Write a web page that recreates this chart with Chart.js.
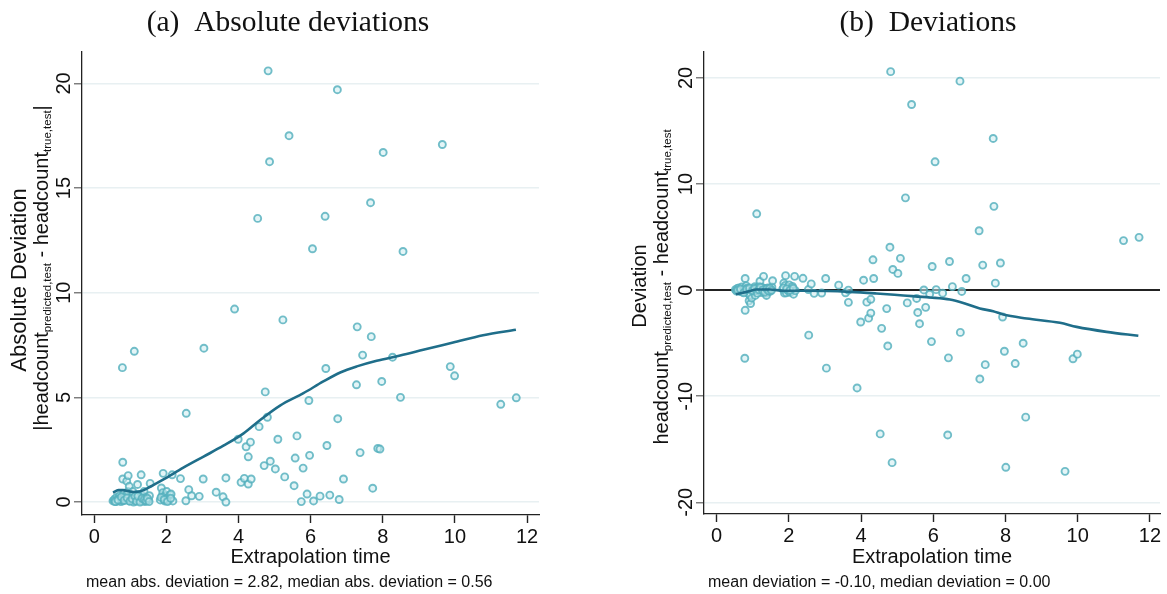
<!DOCTYPE html>
<html>
<head>
<meta charset="utf-8">
<script src="https://cdn.jsdelivr.net/npm/chart.js@4.4.1/dist/chart.umd.min.js"></script>
<style>
  body { margin: 0; background: #fff; }
  canvas { position: absolute; top: 0; }
  #chartA { left: 0; }
  #chartB { left: 583px; }
</style>
</head>
<body>
<canvas id="chartA" width="583" height="594"></canvas>
<canvas id="chartB" width="584" height="594"></canvas>
<script>
// extrapolation time of each test case, and its deviation (predicted - true)
const xTime = [
  0.52, 0.55, 0.57, 0.60, 0.62, 0.64, 0.67, 0.70, 0.72, 0.74, 0.77, 0.79, 0.79, 0.78, 0.80, 0.82, 0.85,
  0.87, 0.90, 0.94, 0.93, 0.96, 0.97, 1.02, 1.04, 1.06, 1.07, 1.09, 1.11, 1.12, 1.14, 1.18, 1.20, 1.22,
  1.24, 1.26, 1.28, 1.30, 1.31, 1.34, 1.36, 1.38, 1.40, 1.42, 1.45, 1.48, 1.50, 1.53, 1.55,
  0.58, 0.66, 0.75, 0.83, 0.91, 0.99, 1.05, 1.13, 1.17, 1.21, 1.27, 1.33, 1.39, 1.44, 1.47, 1.52,
  1.83, 1.86, 1.88, 1.90, 1.91, 1.93, 1.95, 1.97, 1.99, 2.01, 2.04, 2.07, 2.10, 2.13, 2.16, 2.18,
  1.85, 1.94, 2.03, 2.12,
  2.39, 2.54, 2.55, 2.62, 2.70, 2.91, 3.02, 3.04, 3.38, 3.57, 3.65, 3.65, 3.89, 3.99, 4.07, 4.16,
  4.21, 4.27, 4.27, 4.33, 4.35, 4.53, 4.57, 4.71, 4.74, 4.80, 4.82, 4.86, 4.88, 5.02, 5.09, 5.23,
  5.28, 5.40, 5.54, 5.57, 5.62, 5.74, 5.79, 5.90, 5.95, 5.97, 6.05, 6.08, 6.26, 6.40, 6.42, 6.45,
  6.53, 6.74, 6.75, 6.79, 6.91, 7.27, 7.29, 7.37, 7.44, 7.66, 7.68, 7.72, 7.86, 7.92, 7.97, 8.01,
  8.27, 8.49, 8.56, 9.65, 9.87, 9.99, 11.27, 11.70
];
const dev = [
  0.05, -0.08, 0.15, 0.02, 0.22, -0.12, 0.06, 0.30, -0.18, 0.02, 0.12, 1.10, -1.90, -6.42, -0.06, 0.40, 0.18,
  -0.30, -1.00, -1.26, -0.50, 0.05, -0.75, 0.10, -0.12, 0.32, -0.50, 0.00, 7.20, 0.20, -0.06, 0.36, 0.84, 0.10,
  -0.22, 0.25, -0.10, 1.30, 0.05, 0.15, -0.30, -0.50, 0.02, 0.22, 0.06, -0.12, 0.12, 0.30, 0.89,
  -0.02, 0.10, -0.25, 0.08, 0.20, -0.04, 0.16, -0.28, 0.04, 0.28, 0.00, -0.18, 0.12, -0.06, 0.18, -0.02,
  0.10, 0.67, -0.28, 0.45, 1.37, -0.25, 0.05, 0.30, -0.10, 0.50, -0.20, 0.08, 0.35, -0.38, 1.30, -0.05,
  0.22, 0.12, -0.02, 0.18,
  1.12, 0.06, -4.24, 0.59, -0.30, -0.27, 1.10, -7.35, 0.47, -0.25, 0.00, -1.15, -9.22, -3.00, 0.94, -1.13,
  -2.64, -2.16, -0.86, 2.86, 1.10, -13.55, -3.60, -1.74, -5.26, 4.05, 20.60, -16.26, 1.95, 1.58, 3.00, 8.70,
  -1.20, 17.50, -0.78, -2.10, -3.16, 0.02, -1.62, -0.38, -4.85, 2.23, 12.10, 0.05, -0.28, -13.65, -6.38, 2.70,
  0.33, 19.70, -3.98, -0.12, 1.10, 5.60, -8.37, 2.36, -7.02, 14.30, 7.90, 0.66, 2.56, -2.53, -5.76, -16.70,
  -6.92, -5.00, -11.97, -17.08, -6.47, -6.03, 4.67, 4.98
];
const absDev = dev.map(Math.abs);

// smoothed (lowess) curves
const smoothXA = [0.52, 0.67, 0.80, 0.95, 1.09, 1.28, 1.55, 1.92, 2.47, 3.03, 3.58, 4.14, 4.60, 5.15, 5.80, 6.35, 6.82, 7.28, 7.83, 8.48, 9.12, 9.95, 10.78, 11.69];
const smoothA  = [0.45, 0.57, 0.57, 0.52, 0.48, 0.51, 0.73, 1.08, 1.64, 2.17, 2.69, 3.28, 3.92, 4.61, 5.20, 5.76, 6.19, 6.48, 6.75, 7.00, 7.27, 7.62, 7.97, 8.23];
const smoothXB = [0.53, 0.83, 1.11, 1.48, 1.85, 2.49, 3.69, 4.43, 5.17, 5.91, 6.46, 6.83, 7.29, 7.66, 7.94, 8.59, 9.51, 9.97, 10.80, 11.68];
const smoothB  = [-0.38, -0.16, 0.06, 0.06, -0.06, -0.06, -0.16, -0.31, -0.50, -0.69, -0.88, -1.20, -1.73, -1.98, -2.30, -2.67, -3.08, -3.46, -3.93, -4.30];

const xTicks = [0, 2, 4, 6, 8, 10, 12];
const yTicksA = [0, 5, 10, 15, 20];
const yTicksB = [-20, -10, 0, 10, 20];

const SANS = '"Liberation Sans", Arial, sans-serif';
const SERIF = '"Liberation Serif", "DejaVu Serif", serif';
const pointRing = 'rgba(84, 176, 189, 0.82)';
const pointFill = 'rgba(205, 236, 240, 0.55)';
const lineColor = '#1f6e8a';
const gridColor = '#e8f0f2';

// draws a label made of normal and subscript pieces, centred on (x, y), rotated if asked
function drawParts(ctx, parts, x, y, rotated, size, subSize) {
  ctx.save();
  ctx.translate(x, y);
  if (rotated) ctx.rotate(-Math.PI / 2);
  ctx.textBaseline = 'middle';
  ctx.textAlign = 'left';
  ctx.fillStyle = '#111';
  let total = 0;
  parts.forEach(p => {
    ctx.font = (p.sub ? subSize : size) + 'px ' + SANS;
    p.w = ctx.measureText(p.t).width;
    total += p.w;
  });
  let pos = -total / 2;
  parts.forEach(p => {
    ctx.font = (p.sub ? subSize : size) + 'px ' + SANS;
    ctx.fillText(p.t, pos, p.sub ? 6 : 0);
    pos += p.w;
  });
  ctx.restore();
}

function textPlugin(cfg) {
  return {
    id: 'texts',
    afterDraw(chart) {
      const ctx = chart.ctx;
      const yScale = chart.scales.y;
      const xScale = chart.scales.x;
      ctx.save();
      // panel title
      ctx.font = '29.5px ' + SERIF;
      ctx.fillStyle = '#111';
      ctx.textAlign = 'center';
      ctx.textBaseline = 'middle';
      ctx.fillText(cfg.title, cfg.titleX, 23);
      // rotated y tick labels
      yScale.ticks.forEach(t => {
        drawParts(ctx, [{ t: String(t.value) }], cfg.tickX, yScale.getPixelForValue(t.value), true, 20, 13);
      });
      // y axis title, two lines
      drawParts(ctx, [{ t: cfg.yTitle1 }], cfg.yTitleX1, cfg.yTitleY1, true, cfg.yTitle1Size, 13);
      drawParts(ctx, cfg.yTitle2, cfg.yTitleX2, cfg.yTitleY2, true, 20, 11.5);
      // x axis title and note
      ctx.font = '20px ' + SANS;
      ctx.textAlign = 'center';
      ctx.fillStyle = '#111';
      ctx.fillText('Extrapolation time', (xScale.left + xScale.right) / 2, 557);
      ctx.font = '16px ' + SANS;
      ctx.textAlign = 'left';
      ctx.fillText(cfg.note, cfg.noteX, 583);
      ctx.restore();
    }
  };
}

function makeChart(id, opts) {
  const ctx = document.getElementById(id).getContext('2d');
  return new Chart(ctx, {
    type: 'scatter',
    data: {
      datasets: [{
        type: 'line',
        data: opts.lineX.map((x, i) => ({ x: x, y: opts.lineY[i] })),
        borderColor: lineColor,
        borderWidth: 2.6,
        pointRadius: 0,
        fill: false,
        tension: 0.4,
        cubicInterpolationMode: 'monotone',
        order: 0
      }, {
        data: xTime.map((x, i) => ({ x: x, y: opts.values[i] })),
        pointRadius: 3.5,
        pointBorderWidth: 1.9,
        pointBorderColor: pointRing,
        pointBackgroundColor: pointFill,
        order: 1
      }]
    },
    options: {
      responsive: false,
      animation: false,
      layout: { padding: { left: 0, right: opts.padRight, top: 52, bottom: 0 } },
      plugins: { legend: { display: false }, tooltip: { enabled: false } },
      scales: {
        x: {
          type: 'linear',
          min: opts.xMin,
          max: opts.xMax,
          afterBuildTicks: s => { s.ticks = xTicks.map(v => ({ value: v })); },
          afterFit: s => { s.height = 594 - opts.bottom; },
          grid: { drawOnChartArea: false, drawTicks: true, tickLength: 8, tickColor: '#222', tickWidth: 1.4 },
          border: { color: '#222', width: 1.3 },
          ticks: { font: { size: 20, family: SANS }, color: '#111', padding: 2, maxRotation: 0 }
        },
        y: {
          min: opts.yMin,
          max: opts.yMax,
          afterBuildTicks: s => { s.ticks = opts.yTicks.map(v => ({ value: v })); },
          afterFit: s => { s.width = opts.left; },
          grid: {
            color: c => (opts.zeroLine && c.tick && c.tick.value === 0) ? '#222' : gridColor,
            lineWidth: c => (opts.zeroLine && c.tick && c.tick.value === 0) ? 2 : 1.5,
            tickLength: 8,
            tickColor: c => (opts.zeroLine && c.tick && c.tick.value === 0) ? '#222' : '#777',
            tickWidth: 1.4
          },
          border: { color: '#222', width: 1.3 },
          ticks: { display: false }
        }
      }
    },
    plugins: [textPlugin(opts.text)]
  });
}

makeChart('chartA', {
  values: absDev, lineX: smoothXA, lineY: smoothA,
  xMin: -0.34, xMax: 12.33, yMin: -0.62, yMax: 21.5, yTicks: yTicksA,
  left: 82, padRight: 44, bottom: 515, zeroLine: false,
  text: {
    title: '(a)  Absolute deviations', titleX: 288,
    tickX: 64, yTitleX1: 20, yTitleX2: 42, yTitleY1: 280, yTitleY2: 268, yTitle1Size: 22,
    yTitle1: 'Absolute Deviation',
    yTitle2: [{ t: '|headcount' }, { t: 'predicted,test', sub: true }, { t: ' - headcount' }, { t: 'true,test', sub: true }, { t: '|' }],
    note: 'mean abs. deviation = 2.82, median abs. deviation = 0.56', noteX: 86
  }
});

makeChart('chartB', {
  values: dev, lineX: smoothXB, lineY: smoothB,
  xMin: -0.35, xMax: 12.28, yMin: -21.1, yMax: 22.45, yTicks: yTicksB,
  left: 121, padRight: 7, bottom: 514, zeroLine: true,
  text: {
    title: '(b)  Deviations', titleX: 928 - 583,
    tickX: 686 - 583, yTitleX1: 640 - 583, yTitleX2: 662 - 583, yTitleY1: 286, yTitleY2: 287, yTitle1Size: 20,
    yTitle1: 'Deviation',
    yTitle2: [{ t: 'headcount' }, { t: 'predicted,test', sub: true }, { t: ' - headcount' }, { t: 'true,test', sub: true }],
    note: 'mean deviation = -0.10, median deviation = 0.00', noteX: 708 - 583
  }
});
</script>
</body>
</html>
